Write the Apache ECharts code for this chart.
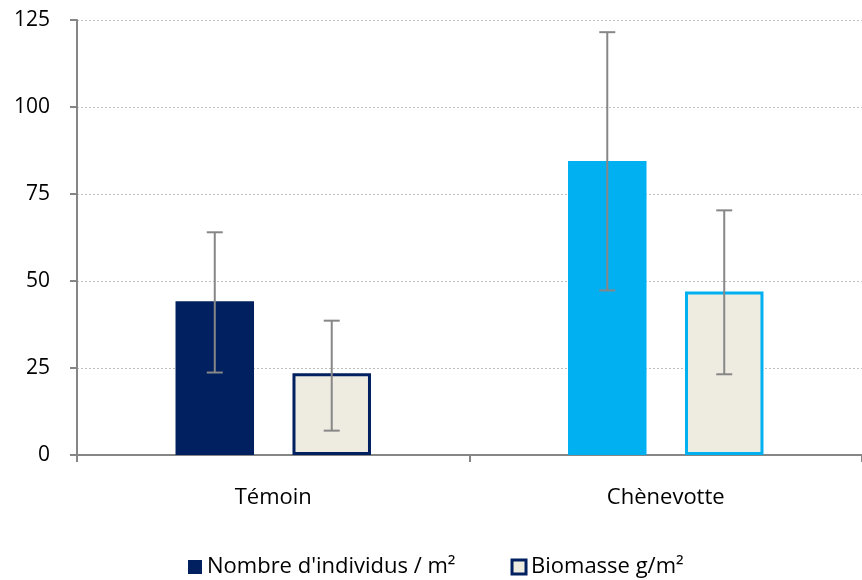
<!DOCTYPE html>
<html>
<head>
<meta charset="utf-8">
<script src="https://cdn.jsdelivr.net/npm/echarts@6/dist/echarts.min.js"></script>
<style>html,body{margin:0;padding:0;background:#fff}#c{width:862px;height:580px}</style>
</head>
<body>
<div id="c"></div>
<script>
var categories = ['Témoin', 'Chènevotte'];
var yTicks = [0, 25, 50, 75, 100, 125];
var nombre = [44.2, 84.5];
var nombreLow = [23.7, 47.3];
var nombreHigh = [64.0, 121.5];
var biomasse = [23.5, 47.0];
var biomasseLow = [7.0, 23.2];
var biomasseHigh = [38.6, 70.3];
var seriesNames = ["Nombre d'individus / m²", 'Biomasse g/m²'];
var catColors = ['#002060', '#00B0F0'];

var FONT = 'Open Sans';
var chart = echarts.init(document.getElementById('c'));

function errSeries(low, high, offsetFrac) {
  return {
    type: 'custom',
    silent: true,
    z: 10,
    data: low.map(function (l, i) { return [i, l, high[i]]; }),
    renderItem: function (params, api) {
      var band = api.size([1, 0])[0];
      var off = band * offsetFrac;
      var p1 = api.coord([api.value(0), api.value(1)]);
      var p2 = api.coord([api.value(0), api.value(2)]);
      var x = p1[0] + off;
      var cw = 8;
      var st = { stroke: '#878787', lineWidth: 2 };
      return {
        type: 'group',
        children: [
          { type: 'line', shape: { x1: x, y1: p1[1], x2: x, y2: p2[1] }, style: st },
          { type: 'line', shape: { x1: x - cw, y1: p1[1], x2: x + cw, y2: p1[1] }, style: st },
          { type: 'line', shape: { x1: x - cw, y1: p2[1], x2: x + cw, y2: p2[1] }, style: st }
        ]
      };
    },
    encode: { x: 0, y: [1, 2] }
  };
}

chart.setOption({
  animation: false,
  textStyle: { fontFamily: FONT },
  grid: { left: 77, right: 0, top: 20, bottom: 125 },
  legend: {
    top: 556, left: 188, padding: 0,
    itemWidth: 14, itemHeight: 14, itemGap: 55,
    textStyle: { fontSize: 22, color: '#000', fontFamily: FONT },
    data: [
      { name: seriesNames[0], icon: 'rect', itemStyle: { color: '#002060' } },
      { name: seriesNames[1], icon: 'rect', itemStyle: { color: '#EEECE1', borderColor: '#002060', borderWidth: 3 } }
    ]
  },
  xAxis: {
    type: 'category',
    data: categories,
    axisLine: { lineStyle: { color: '#868686', width: 2 } },
    axisTick: { show: true, length: 7, lineStyle: { color: '#868686', width: 2 } },
    axisLabel: { fontSize: 22, color: '#000', margin: 32, fontFamily: FONT },
    splitLine: { show: false }
  },
  yAxis: {
    type: 'value',
    min: 0, max: 125, interval: 25,
    axisLine: { show: true, lineStyle: { color: '#868686', width: 2 } },
    axisTick: { show: true, length: 7, lineStyle: { color: '#868686', width: 2 } },
    axisLabel: { fontSize: 21, color: '#000', margin: 27, fontFamily: FONT,
      formatter: function (v) { return yTicks.indexOf(v) >= 0 ? String(v) : ''; } },
    splitLine: { show: true, lineStyle: { color: '#BFBFBF', type: [2, 2], width: 1 } }
  },
  series: [
    {
      name: seriesNames[0], type: 'bar', barWidth: '20%', barGap: '49%',
      itemStyle: { color: '#002060' },
      data: nombre.map(function (v, i) { return { value: v, itemStyle: { color: catColors[i] } }; })
    },
    {
      name: seriesNames[1], type: 'bar', barWidth: '20%', barGap: '49%',
      itemStyle: { color: '#EEECE1', borderColor: '#002060', borderWidth: 3 },
      data: biomasse.map(function (v, i) { return { value: v, itemStyle: { color: '#EEECE1', borderColor: catColors[i], borderWidth: 3 } }; })
    },
    errSeries(nombreLow, nombreHigh, -0.149),
    errSeries(biomasseLow, biomasseHigh, 0.149)
  ]
});
</script>
</body>
</html>
